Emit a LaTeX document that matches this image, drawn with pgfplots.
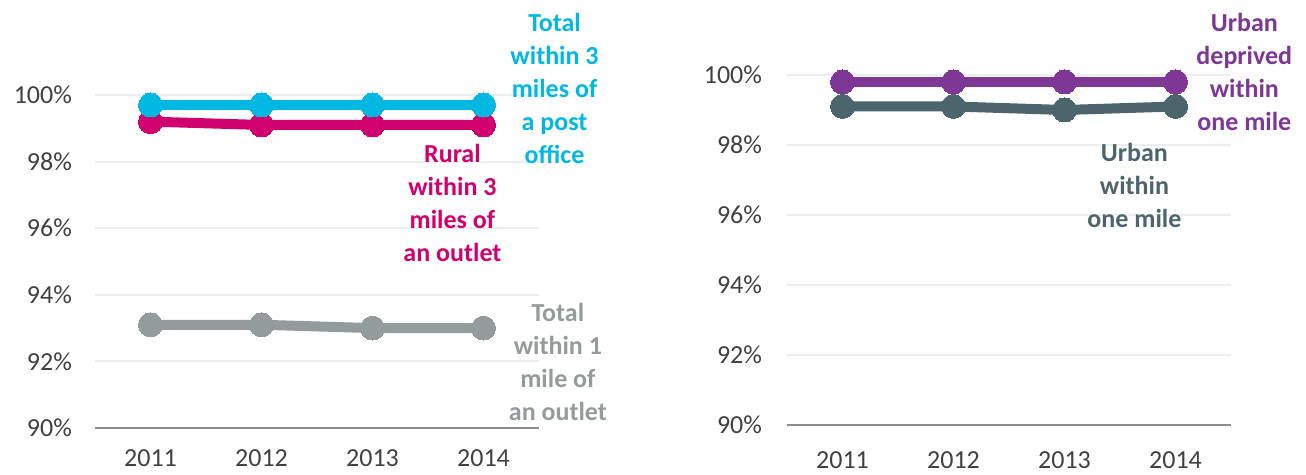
\documentclass[border=0pt]{standalone}
\usepackage{fontspec}
\setmainfont{Carlito}
\usepackage{pgfplots}
\pgfplotsset{compat=1.18}

\definecolor{cblue}{HTML}{00B8E2}
\definecolor{cmag}{HTML}{D0006F}
\definecolor{cgray}{HTML}{949C9B}
\definecolor{cpurple}{HTML}{7E3794}
\definecolor{cslate}{HTML}{4C646C}
\definecolor{ctick}{HTML}{404040}
\definecolor{cgrid}{HTML}{EBEEF1}
\definecolor{caxis}{HTML}{8C8C8C}

\tikzset{
  ser/.style={color=#1, line width=5pt, mark=*, mark size=6pt,
    mark options={solid, fill=#1, draw=#1, line width=0pt}},
  lab/.style={font=\bfseries\fontsize{13}{16.5}\selectfont, align=center, text=#1},
}

\pgfplotsset{
  postal/.style={
    x=55.5pt,
    xmin=2010.5, xmax=2014.5,
    ymin=90, ymax=100.01,
    xtick={2011,2012,2013,2014},
    xticklabels={2011,2012,2013,2014},
    ytick={90,92,94,96,98,100},
    yticklabels={90\%,92\%,94\%,96\%,98\%,100\%},
    major tick length=0pt,
    axis lines*=left,
    x axis line style={draw=caxis, line width=1pt, -},
    y axis line style={draw=none},
    ymajorgrids,
    grid style={draw=cgrid, line width=1pt},
    tick label style={font=\fontsize{13}{15}\selectfont, text=ctick},
    clip=false,
    anchor=south west,
  },
}

\begin{document}
\begin{tikzpicture}
\path[use as bounding box] (-47.5pt,-23.5pt) rectangle (605.5pt,214pt);

\begin{axis}[postal, y=16.65pt, at={(0pt,0pt)},
  yticklabel style={xshift=-8pt},
  xticklabel style={yshift=-7.5pt}]
\addplot[ser=cgray] coordinates {(2011,93.1) (2012,93.1) (2013,93.0) (2014,93.0)};
\addplot[ser=cmag] coordinates {(2011,99.2) (2012,99.1) (2013,99.1) (2014,99.1)};
\addplot[ser=cblue] coordinates {(2011,99.7) (2012,99.7) (2013,99.7) (2014,99.7)};
\node[lab=cblue] at (axis cs:2014.64,100.21) {Total\\within 3\\miles of\\a post\\office};
\node[lab=cmag] at (axis cs:2013.72,96.76) {Rural\\within 3\\miles of\\an outlet};
\node[lab=cgray] at (axis cs:2014.67,91.98) {Total\\within 1\\mile of\\an outlet};
\end{axis}

\begin{axis}[postal, y=17.5pt, at={(346pt,1.5pt)},
  yticklabel style={xshift=-9pt},
  xticklabel style={yshift=-10pt}]
\addplot[ser=cslate] coordinates {(2011,99.1) (2012,99.1) (2013,99.0) (2014,99.1)};
\addplot[ser=cpurple] coordinates {(2011,99.8) (2012,99.8) (2013,99.8) (2014,99.8)};
\node[lab=cpurple] at (axis cs:2014.62,100.09) {Urban\\deprived\\within\\one mile};
\node[lab=cslate] at (axis cs:2013.63,96.83) {Urban\\within\\one mile};
\end{axis}
\end{tikzpicture}
\end{document}
